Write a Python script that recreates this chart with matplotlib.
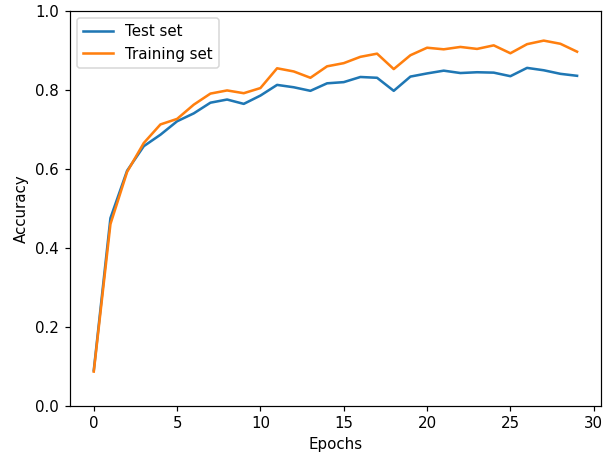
import matplotlib
matplotlib.use('Agg')
import matplotlib.pyplot as plt

# accuracy per epoch
epochs = list(range(30))
test_acc = [0.090, 0.475, 0.595, 0.657, 0.686, 0.720, 0.740, 0.767, 0.775, 0.764,
            0.785, 0.812, 0.806, 0.797, 0.816, 0.819, 0.832, 0.830, 0.797, 0.833,
            0.841, 0.848, 0.842, 0.844, 0.843, 0.834, 0.855, 0.849, 0.840, 0.835]
train_acc = [0.087, 0.460, 0.592, 0.665, 0.712, 0.726, 0.762, 0.790, 0.798, 0.791,
             0.804, 0.854, 0.846, 0.830, 0.859, 0.867, 0.883, 0.891, 0.852, 0.887,
             0.906, 0.902, 0.908, 0.903, 0.912, 0.892, 0.915, 0.924, 0.916, 0.896]

DPI = 108
fig = plt.figure(figsize=(616 / DPI, 459 / DPI), dpi=DPI)
ax = fig.add_subplot(111)
fig.subplots_adjust(left=0.113, right=0.976, top=0.977, bottom=0.1155)

ax.plot(epochs, test_acc, label='Test set', lw=1.7)
ax.plot(epochs, train_acc, label='Training set', lw=1.7)
ax.set_ylim(0, 1.0)
ax.set_xlabel('Epochs')
ax.set_ylabel('Accuracy')
ax.legend(loc='upper left')

plt.savefig('out.png', dpi=DPI)
